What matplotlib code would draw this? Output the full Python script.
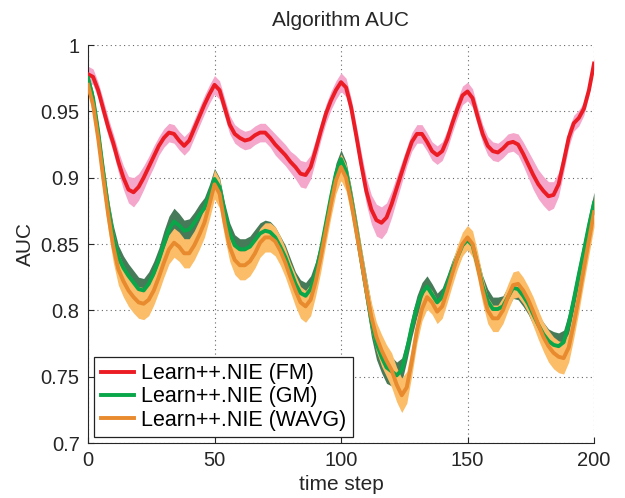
import matplotlib
matplotlib.use("Agg")
import matplotlib.pyplot as plt
import numpy as np

plt.rcParams['font.family'] = ['Liberation Sans', 'DejaVu Sans']

# time steps (every 2)
steps = list(range(0, 201, 2))

auc_fm = [
    0.978,
    0.976, 0.966, 0.952, 0.938, 0.926, 0.912, 0.900, 0.891, 0.889, 0.893,
    0.900, 0.908, 0.916, 0.924, 0.930, 0.934, 0.933, 0.928, 0.924, 0.928,
    0.937, 0.946, 0.955, 0.963, 0.970, 0.966, 0.953, 0.940, 0.933, 0.930,
    0.928, 0.929, 0.932, 0.934, 0.934, 0.930, 0.925, 0.921, 0.917, 0.912,
    0.908, 0.903, 0.902, 0.908, 0.921, 0.935, 0.948, 0.958, 0.966, 0.972,
    0.968, 0.953, 0.932, 0.910, 0.890, 0.876, 0.868, 0.866, 0.870, 0.880,
    0.892, 0.904, 0.916, 0.927, 0.933, 0.933, 0.927, 0.920, 0.917, 0.920,
    0.929, 0.941, 0.952, 0.962, 0.965, 0.960, 0.946, 0.933, 0.924, 0.920,
    0.919, 0.922, 0.926, 0.927, 0.925, 0.918, 0.910, 0.902, 0.895, 0.890,
    0.886, 0.887, 0.895, 0.912, 0.930, 0.941, 0.945, 0.952, 0.966, 0.986,
]
fm_err = [
    0.006,
    0.006, 0.006, 0.007, 0.007, 0.007, 0.008, 0.009, 0.010, 0.011, 0.010,
    0.009, 0.008, 0.008, 0.007, 0.007, 0.007, 0.007, 0.007, 0.007, 0.007,
    0.007, 0.007, 0.007, 0.007, 0.007, 0.007, 0.007, 0.007, 0.007, 0.007,
    0.007, 0.007, 0.007, 0.007, 0.007, 0.007, 0.008, 0.008, 0.008, 0.008,
    0.009, 0.010, 0.010, 0.009, 0.008, 0.007, 0.007, 0.007, 0.007, 0.007,
    0.007, 0.007, 0.008, 0.009, 0.010, 0.011, 0.012, 0.012, 0.011, 0.010,
    0.009, 0.008, 0.007, 0.007, 0.007, 0.007, 0.007, 0.007, 0.007, 0.007,
    0.007, 0.007, 0.007, 0.007, 0.007, 0.007, 0.007, 0.007, 0.007, 0.007,
    0.007, 0.007, 0.007, 0.007, 0.008, 0.009, 0.010, 0.011, 0.011, 0.011,
    0.011, 0.010, 0.009, 0.008, 0.007, 0.006, 0.006, 0.005, 0.004, 0.004,
]

auc_gm = [
    0.975,
    0.960, 0.935, 0.905, 0.877, 0.855, 0.840, 0.832, 0.826, 0.821, 0.816,
    0.815, 0.820, 0.828, 0.838, 0.850, 0.861, 0.867, 0.864, 0.860, 0.861,
    0.866, 0.872, 0.877, 0.887, 0.899, 0.893, 0.874, 0.858, 0.849, 0.846,
    0.846, 0.848, 0.853, 0.858, 0.860, 0.859, 0.855, 0.848, 0.840, 0.830,
    0.820, 0.813, 0.811, 0.816, 0.828, 0.845, 0.865, 0.885, 0.903, 0.914,
    0.905, 0.885, 0.862, 0.838, 0.815, 0.792, 0.775, 0.765, 0.757, 0.754,
    0.751, 0.755, 0.770, 0.788, 0.803, 0.813, 0.818, 0.812, 0.806, 0.810,
    0.820, 0.831, 0.840, 0.849, 0.853, 0.849, 0.834, 0.818, 0.807, 0.801,
    0.801, 0.803, 0.810, 0.817, 0.816, 0.811, 0.805, 0.797, 0.789, 0.782,
    0.777, 0.774, 0.773, 0.776, 0.790, 0.808, 0.827, 0.845, 0.864, 0.881,
]
gm_err = [
    0.004,
    0.005, 0.006, 0.007, 0.008, 0.009, 0.009, 0.009, 0.009, 0.009, 0.009,
    0.009, 0.009, 0.009, 0.009, 0.010, 0.010, 0.010, 0.009, 0.008, 0.008,
    0.008, 0.008, 0.008, 0.008, 0.008, 0.007, 0.007, 0.008, 0.008, 0.008,
    0.008, 0.008, 0.008, 0.008, 0.008, 0.008, 0.008, 0.008, 0.009, 0.009,
    0.009, 0.010, 0.010, 0.010, 0.009, 0.008, 0.008, 0.008, 0.008, 0.007,
    0.007, 0.008, 0.009, 0.010, 0.011, 0.012, 0.012, 0.012, 0.012, 0.011,
    0.010, 0.009, 0.008, 0.008, 0.008, 0.008, 0.008, 0.008, 0.007, 0.007,
    0.007, 0.007, 0.007, 0.007, 0.007, 0.007, 0.007, 0.008, 0.009, 0.009,
    0.009, 0.008, 0.008, 0.008, 0.008, 0.008, 0.008, 0.008, 0.008, 0.009,
    0.009, 0.010, 0.010, 0.009, 0.008, 0.008, 0.008, 0.008, 0.008, 0.008,
]

auc_wavg = [
    0.970,
    0.955, 0.930, 0.900, 0.872, 0.848, 0.831, 0.822, 0.815, 0.810, 0.806,
    0.805, 0.808, 0.815, 0.825, 0.836, 0.846, 0.851, 0.848, 0.843, 0.843,
    0.849, 0.857, 0.866, 0.880, 0.895, 0.888, 0.866, 0.848, 0.838, 0.834,
    0.834, 0.837, 0.843, 0.851, 0.855, 0.855, 0.852, 0.845, 0.836, 0.825,
    0.815, 0.806, 0.803, 0.808, 0.822, 0.840, 0.860, 0.880, 0.898, 0.908,
    0.900, 0.882, 0.860, 0.838, 0.815, 0.795, 0.780, 0.770, 0.762, 0.755,
    0.744, 0.736, 0.742, 0.762, 0.785, 0.801, 0.810, 0.806, 0.799, 0.803,
    0.815, 0.828, 0.840, 0.850, 0.855, 0.850, 0.834, 0.815, 0.800, 0.794,
    0.794, 0.800, 0.810, 0.819, 0.820, 0.815, 0.808, 0.799, 0.789, 0.780,
    0.773, 0.768, 0.765, 0.764, 0.772, 0.790, 0.810, 0.832, 0.853, 0.874,
]
wavg_err = [
    0.006,
    0.008, 0.010, 0.011, 0.012, 0.012, 0.012, 0.012, 0.012, 0.012, 0.012,
    0.012, 0.012, 0.011, 0.011, 0.011, 0.011, 0.011, 0.011, 0.011, 0.011,
    0.011, 0.011, 0.011, 0.011, 0.011, 0.011, 0.011, 0.011, 0.011, 0.011,
    0.011, 0.011, 0.011, 0.011, 0.011, 0.011, 0.011, 0.011, 0.011, 0.011,
    0.012, 0.012, 0.012, 0.012, 0.011, 0.011, 0.010, 0.010, 0.010, 0.010,
    0.010, 0.010, 0.010, 0.010, 0.010, 0.011, 0.011, 0.012, 0.012, 0.013,
    0.013, 0.013, 0.012, 0.011, 0.010, 0.009, 0.009, 0.009, 0.009, 0.009,
    0.009, 0.009, 0.009, 0.009, 0.009, 0.010, 0.010, 0.010, 0.010, 0.010,
    0.010, 0.010, 0.010, 0.010, 0.010, 0.010, 0.010, 0.011, 0.011, 0.011,
    0.012, 0.012, 0.012, 0.012, 0.011, 0.011, 0.011, 0.011, 0.011, 0.011,
]

labels = ['Learn++.NIE (FM)', 'Learn++.NIE (GM)', 'Learn++.NIE (WAVG)']
line_cols = ['#ec1c24', '#0aa64a', '#e88a2e']
band_cols = ['#f4a7cb', '#467a58', '#fbbd68']

x = np.array(steps)
series = [(np.array(auc_fm), np.array(fm_err)),
          (np.array(auc_gm), np.array(gm_err)),
          (np.array(auc_wavg), np.array(wavg_err))]

fig = plt.figure(figsize=(6.25, 4.98), dpi=100)
ax = fig.add_axes([0.1408, 0.1104, 0.8096, 0.7992])

# bands first, then the mean lines on top
for i, (m, e) in enumerate(series):
    ax.fill_between(x, m - e, m + e, color=band_cols[i], linewidth=0, zorder=1 + i)
for i, (m, e) in enumerate(series):
    ax.plot(x, m, color=line_cols[i], linewidth=2.8, label=labels[i], zorder=5)

ax.set_xlim(0, 200)
ax.set_ylim(0.7, 1.0)
ax.set_xticks([0, 50, 100, 150, 200])
ax.set_yticks([0.7, 0.75, 0.8, 0.85, 0.9, 0.95, 1.0])
ax.set_yticklabels(['0.7', '0.75', '0.8', '0.85', '0.9', '0.95', '1'])
ax.grid(True, linestyle=(0, (1, 3)), color='#666666', linewidth=0.8)
ax.set_axisbelow(True)
ax.spines['top'].set_visible(False)
ax.spines['right'].set_visible(False)
for s in ['left', 'bottom']:
    ax.spines[s].set_color('#262626')
    ax.spines[s].set_linewidth(0.8)
ax.tick_params(direction='in', length=4, width=0.8, colors='#262626',
               labelsize=14.5, pad=6)

ax.set_title('Algorithm AUC', fontsize=15, color='#262626', pad=14)
ax.set_xlabel('time step', fontsize=15, color='#262626', labelpad=3)
ax.set_ylabel('AUC', fontsize=15, color='#262626', labelpad=4)

leg = ax.legend(loc='lower left', bbox_to_anchor=(0.012, 0.015), fontsize=15.5,
                frameon=True, fancybox=False, handlelength=1.55,
                borderpad=0.3, labelspacing=0.1, handletextpad=0.35,
                borderaxespad=0.0)
leg.get_frame().set_edgecolor('#222222')
leg.get_frame().set_linewidth(0.9)
leg.get_frame().set_alpha(1)

fig.savefig('out.png', dpi=100)
plt.close(fig)
